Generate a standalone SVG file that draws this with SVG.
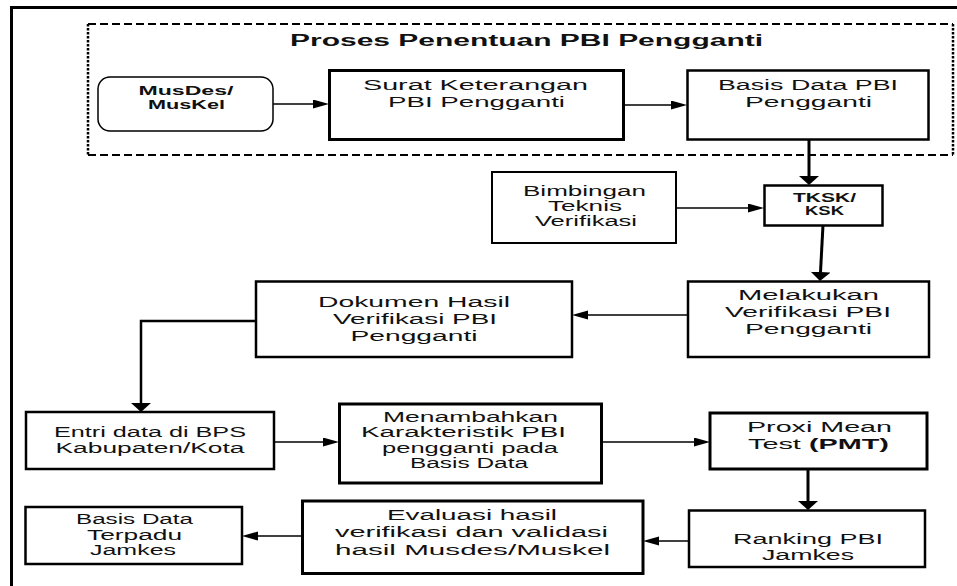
<svg xmlns="http://www.w3.org/2000/svg" width="957" height="586" viewBox="0 0 957 586">
<defs>
<style>
.t{font-family:"Liberation Sans",Arial,sans-serif;font-size:14px;fill:#111;text-anchor:middle}
.b{font-weight:bold}
.box{fill:#fff;stroke:#000;stroke-width:2.5}
.thin{stroke:#000;stroke-width:1.5;fill:none}
.thick{stroke:#000;stroke-width:3;fill:none}
</style>
<marker id="ah" markerUnits="userSpaceOnUse" markerWidth="17" markerHeight="10" refX="0" refY="4.5" orient="auto">
<path d="M0,0 L16,4.5 L0,9 z" fill="#000"/>
</marker>
<marker id="av" markerUnits="userSpaceOnUse" markerWidth="10" markerHeight="21" refX="0" refY="10" orient="auto">
<path d="M0,0 L9,10 L0,20 z" fill="#000"/>
</marker>
</defs>
<rect width="957" height="586" fill="#fff"/>
<g id="frame">
<line x1="10" y1="7.5" x2="957" y2="7.5" stroke="#000" stroke-width="3"/>
<line x1="11.5" y1="6" x2="11.5" y2="586" stroke="#000" stroke-width="3"/>
</g>
<g id="group-proses">
<line x1="88" y1="24" x2="953" y2="24" stroke="#000" stroke-width="2" stroke-dasharray="8 4"/>
<line x1="88" y1="155" x2="953" y2="155" stroke="#000" stroke-width="2" stroke-dasharray="8 4"/>
<line x1="88" y1="24" x2="88" y2="155" stroke="#000" stroke-width="2.5" stroke-dasharray="2.5 1.5"/>
<line x1="953" y1="24" x2="953" y2="155" stroke="#000" stroke-width="2.5" stroke-dasharray="2.5 1.5"/>
<text class="t b" x="526.5" y="46" style="font-size:16px" textLength="473" lengthAdjust="spacingAndGlyphs">Proses Penentuan PBI Pengganti</text>
</g>
<g id="connectors">
<line class="thin" x1="273" y1="104" x2="313" y2="104" marker-end="url(#ah)"/>
<line class="thin" x1="624" y1="105" x2="671" y2="105" marker-end="url(#ah)"/>
<line class="thick" x1="809" y1="139" x2="809" y2="176" marker-end="url(#av)"/>
<line class="thin" x1="676" y1="208" x2="748" y2="208" marker-end="url(#ah)"/>
<line class="thick" x1="823" y1="225" x2="820.5" y2="272" marker-end="url(#av)"/>
<line class="thin" x1="688" y1="315" x2="588" y2="315" marker-end="url(#ah)"/>
<polyline class="thin" style="stroke-width:2.5" points="256,321 141,321 141,403" marker-end="url(#av)"/>
<line class="thin" x1="274" y1="442" x2="323" y2="442" marker-end="url(#ah)"/>
<line class="thin" x1="602" y1="442" x2="694" y2="442" marker-end="url(#ah)"/>
<line class="thick" x1="808" y1="469" x2="808" y2="501" marker-end="url(#av)"/>
<line class="thin" x1="689" y1="541" x2="659" y2="541" marker-end="url(#ah)"/>
<line class="thin" x1="302" y1="536" x2="258" y2="536" marker-end="url(#ah)"/>
</g>
<g id="musdes">
<rect x="98" y="77" width="175" height="54" rx="12" fill="#fff" stroke="#000" stroke-width="1.5"/>
<text class="t b" x="186" y="95" style="font-size:12px" textLength="95" lengthAdjust="spacingAndGlyphs">MusDes/</text>
<text class="t b" x="186.5" y="109" style="font-size:12px" textLength="77" lengthAdjust="spacingAndGlyphs">MusKel</text>
</g>
<g id="surat">
<rect class="box" x="329.5" y="70.5" width="294" height="69" style="stroke-width:3"/>
<text class="t" x="475.5" y="90" textLength="225" lengthAdjust="spacingAndGlyphs">Surat Keterangan</text>
<text class="t" x="476.5" y="107" textLength="177" lengthAdjust="spacingAndGlyphs">PBI Pengganti</text>
</g>
<g id="basis-data">
<rect class="box" x="687.5" y="70.5" width="241" height="69"/>
<text class="t" x="808" y="90" textLength="180" lengthAdjust="spacingAndGlyphs">Basis Data PBI</text>
<text class="t" x="808.5" y="107" textLength="127" lengthAdjust="spacingAndGlyphs">Pengganti</text>
</g>
<g id="bimbingan">
<rect class="box" x="492" y="172" width="184" height="71" style="stroke-width:2"/>
<text class="t" x="584.5" y="196" textLength="123" lengthAdjust="spacingAndGlyphs">Bimbingan</text>
<text class="t" x="585" y="211" textLength="74" lengthAdjust="spacingAndGlyphs">Teknis</text>
<text class="t" x="586" y="226" textLength="102" lengthAdjust="spacingAndGlyphs">Verifikasi</text>
</g>
<g id="tksk">
<rect class="box" x="764.5" y="185.5" width="118" height="40"/>
<text class="t b" x="824.5" y="202" style="font-size:12px" textLength="63" lengthAdjust="spacingAndGlyphs">TKSK/</text>
<text class="t b" x="824.5" y="215" style="font-size:12px" textLength="39" lengthAdjust="spacingAndGlyphs">KSK</text>
</g>
<g id="melakukan">
<rect class="box" x="688" y="281.5" width="241" height="75.5"/>
<text class="t" x="808.5" y="300" textLength="141" lengthAdjust="spacingAndGlyphs">Melakukan</text>
<text class="t" x="808" y="317" textLength="166" lengthAdjust="spacingAndGlyphs">Verifikasi PBI</text>
<text class="t" x="808.5" y="334" textLength="127" lengthAdjust="spacingAndGlyphs">Pengganti</text>
</g>
<g id="dokumen">
<rect class="box" x="256" y="281.5" width="316" height="75.5"/>
<text class="t" x="414" y="307" textLength="192" lengthAdjust="spacingAndGlyphs">Dokumen Hasil</text>
<text class="t" x="415" y="324" textLength="164" lengthAdjust="spacingAndGlyphs">Verifikasi PBI</text>
<text class="t" x="414" y="341" textLength="127" lengthAdjust="spacingAndGlyphs">Pengganti</text>
</g>
<g id="entri">
<rect class="box" x="26" y="412" width="248" height="57"/>
<text class="t" x="150" y="437" textLength="192" lengthAdjust="spacingAndGlyphs">Entri data di BPS</text>
<text class="t" x="150" y="453" textLength="189" lengthAdjust="spacingAndGlyphs">Kabupaten/Kota</text>
</g>
<g id="menambahkan">
<rect class="box" x="339.5" y="404" width="262" height="79" style="stroke-width:3"/>
<text class="t" x="470.5" y="422" textLength="175" lengthAdjust="spacingAndGlyphs">Menambahkan</text>
<text class="t" x="463.5" y="437" textLength="205" lengthAdjust="spacingAndGlyphs">Karakteristik PBI</text>
<text class="t" x="470" y="453" textLength="176" lengthAdjust="spacingAndGlyphs">pengganti pada</text>
<text class="t" x="469" y="468" textLength="118" lengthAdjust="spacingAndGlyphs">Basis Data</text>
</g>
<g id="proxi">
<rect class="box" x="710" y="413" width="217" height="56" style="stroke-width:3"/>
<text class="t" x="819.5" y="432" textLength="145" lengthAdjust="spacingAndGlyphs">Proxi Mean</text>
<text class="t" x="818.5" y="449" textLength="141" lengthAdjust="spacingAndGlyphs">Test <tspan class="b">(PMT)</tspan></text>
</g>
<g id="ranking">
<rect class="box" x="689" y="510.5" width="236" height="56.5"/>
<text class="t" x="808" y="544" textLength="150" lengthAdjust="spacingAndGlyphs">Ranking PBI</text>
<text class="t" x="808" y="560" textLength="92" lengthAdjust="spacingAndGlyphs">Jamkes</text>
</g>
<g id="evaluasi">
<rect class="box" x="302.5" y="501" width="340.5" height="72.5" style="stroke-width:3"/>
<text class="t" x="472" y="520" textLength="170" lengthAdjust="spacingAndGlyphs">Evaluasi hasil</text>
<text class="t" x="471.5" y="537" textLength="273" lengthAdjust="spacingAndGlyphs">verifikasi dan validasi</text>
<text class="t" x="472.5" y="555" textLength="275" lengthAdjust="spacingAndGlyphs">hasil Musdes/Muskel</text>
</g>
<g id="basis-terpadu">
<rect class="box" x="25.5" y="507" width="216.5" height="57"/>
<text class="t" x="134.5" y="524" textLength="117" lengthAdjust="spacingAndGlyphs">Basis Data</text>
<text class="t" x="134.5" y="540" textLength="95" lengthAdjust="spacingAndGlyphs">Terpadu</text>
<text class="t" x="133" y="555" textLength="86" lengthAdjust="spacingAndGlyphs">Jamkes</text>
</g>
</svg>
